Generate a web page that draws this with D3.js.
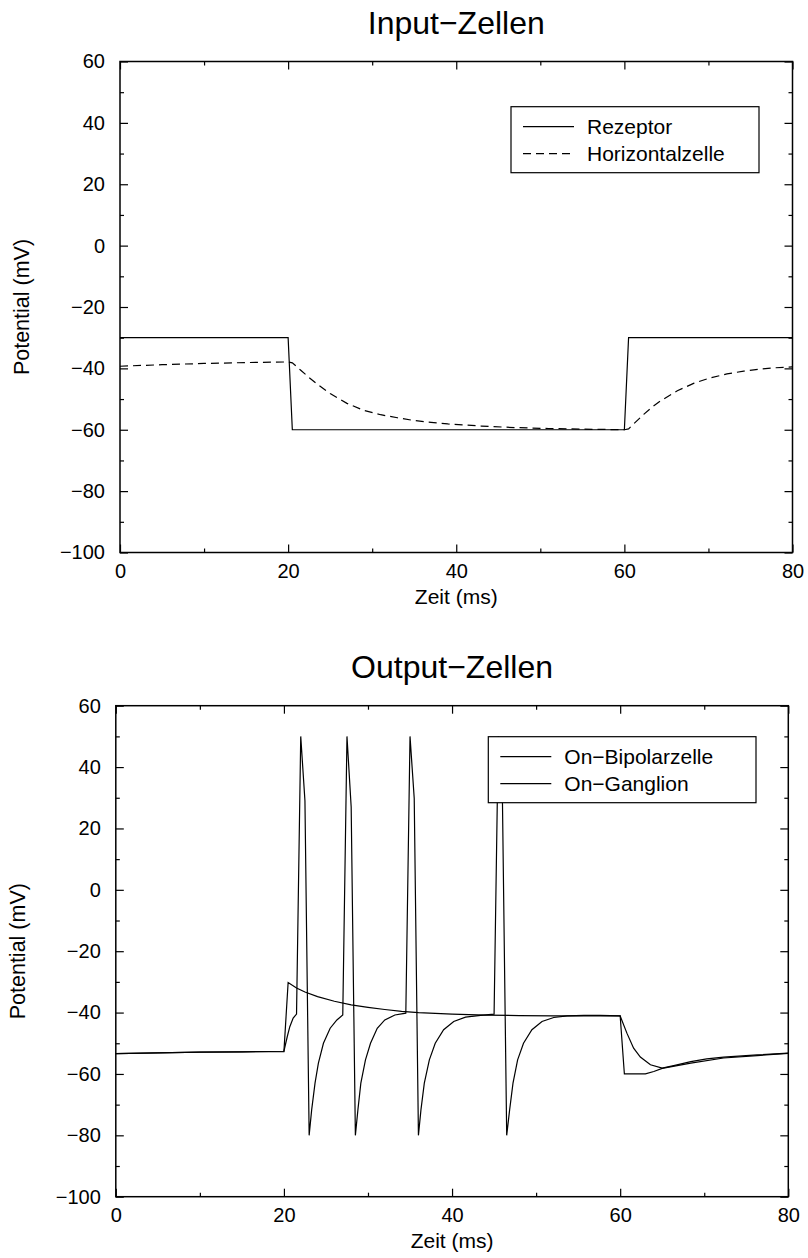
<!DOCTYPE html>
<html>
<head>
<meta charset="utf-8">
<script src="https://cdn.jsdelivr.net/npm/d3@7"></script>
<style>
  body { margin: 0; background: #fff; }
  text { font-family: "Liberation Sans", Arial, Helvetica, sans-serif; fill: #000; }
</style>
</head>
<body>
<svg id="chart" width="808" height="1258"></svg>
<script>
// ---- data ----
const xTicks = [0, 20, 40, 60, 80];
const yTicks = [-100, -80, -60, -40, -20, 0, 20, 40, 60];

// Input-Zellen
const receptorTime  = [0, 20, 20.5, 60, 60.5, 80];
const receptorValue = [-30, -30, -60, -60, -30, -30];

const horizTime  = [0, 5, 10, 15, 20, 20.5, 21.5, 22.5, 23.5, 25, 27, 29, 31, 33, 35, 37, 39, 43, 47, 51, 55, 60,
                    60.5, 61.1, 62.3, 63.3, 64.3, 66.3, 68.3, 70.2, 72.2, 74.2, 76.2, 78, 80];
const horizValue = [-39.3, -38.8, -38.4, -38.1, -37.9, -38.2, -40.6, -43.0, -45.2, -48.2, -51.4, -53.7, -55.1, -56.1, -57.0, -57.6, -58.1, -58.8, -59.3, -59.6, -59.8, -60,
                    -59.7, -58.1, -55.0, -52.6, -50.6, -47.3, -44.8, -43.1, -41.8, -40.9, -40.2, -39.8, -39.5];

// Output-Zellen
const bipolarTime  = [0, 5, 10, 15, 20, 20.5, 21.5, 22.5, 24, 26, 28, 30, 32, 34, 36, 40, 44, 48, 52, 60,
                      60.8, 61.6, 62.4, 63.6, 65, 66.5, 68.4, 70.3, 72.3, 76.3, 80];
const bipolarValue = [-53.4, -53.1, -52.9, -52.8, -52.7, -30.2, -32.0, -33.3, -34.8, -36.3, -37.5, -38.3, -39.0, -39.6, -40.0, -40.5, -40.8, -41.0, -41.1, -41.1,
                      -46.7, -51.6, -54.5, -57.0, -58.1, -57.2, -56.0, -55.1, -54.5, -53.8, -53.2];

const ganglionTime  = [0, 5, 10, 15, 20, 20.4, 20.7, 21.1, 21.5,
                       22, 22.5, 23, 23.3, 23.7, 24.1, 24.7, 25.5, 26.3, 27,
                       27.5, 28, 28.5, 28.8, 29.15, 29.7, 30.3, 31.1, 32, 33.2, 34.5,
                       35, 35.5, 36, 36.3, 36.7, 37.3, 38, 39, 40.2, 41.6, 43.4, 45,
                       45.5, 46, 46.5, 46.85, 47.25, 47.8, 48.5, 49.5, 50.7, 52.1, 53.7, 55.7, 57.6, 60,
                       60.5, 63, 64, 65, 68.4, 72.3, 76.3, 80];
const ganglionValue = [-53.4, -53.1, -52.9, -52.8, -52.6, -47.8, -44.6, -41.8, -40.5,
                       50, 29, -80, -71.7, -63.0, -56.5, -50.0, -45.1, -42.4, -40.8,
                       50, 27, -80, -71.7, -63.0, -55.4, -50.0, -45.1, -42.4, -40.8, -40.2,
                       50, 29.8, -80, -71.7, -63.0, -55.4, -50.0, -45.6, -42.9, -41.5, -40.9, -40.5,
                       50, 28, -80, -71.7, -63.0, -55.4, -50.0, -45.6, -42.9, -41.6, -41.1, -40.9, -40.9, -41.1,
                       -60, -60, -59.2, -58.2, -56.5, -54.8, -54.0, -53.3];

// ---- layout ----
const panels = [
  {
    title: "Input\u2212Zellen",
    left: 120, right: 792.5, top: 61.5, bottom: 552.5,
    series: [
      { name: "Rezeptor", t: receptorTime, v: receptorValue },
      { name: "Horizontalzelle", t: horizTime, v: horizValue, dash: "8,5" }
    ],
    legend: { x: 511, y: 106.7, w: 248, h: 66 }
  },
  {
    title: "Output\u2212Zellen",
    left: 115.8, right: 788.3, top: 705.7, bottom: 1196.7,
    series: [
      { name: "On\u2212Bipolarzelle", t: bipolarTime, v: bipolarValue },
      { name: "On\u2212Ganglion", t: ganglionTime, v: ganglionValue }
    ],
    legend: { x: 488.3, y: 736.7, w: 267.7, h: 66 }
  }
];

const svg = d3.select("#chart");
const fontFamily = '"Liberation Sans", Arial, Helvetica, sans-serif';

function styleAxis(g) {
  g.attr("font-size", 20).attr("font-family", fontFamily);
  g.select(".domain").remove();
  g.selectAll(".tick line").attr("stroke", "#000").attr("stroke-width", 1.2);
}

panels.forEach(function (p) {
  const g = svg.append("g");
  const x = d3.scaleLinear().domain([0, 80]).range([p.left, p.right]);
  const y = d3.scaleLinear().domain([-100, 60]).range([p.bottom, p.top]);
  const xMinor = d3.range(0, 81, 10).filter(d => !xTicks.includes(d));
  const yMinor = d3.range(-100, 61, 10).filter(d => !yTicks.includes(d));

  // data lines
  const line = d3.line().x(d => x(d[0])).y(d => y(d[1]));
  p.series.forEach(function (s) {
    g.append("path")
      .datum(d3.zip(s.t, s.v))
      .attr("d", line)
      .attr("fill", "none")
      .attr("stroke", "#000")
      .attr("stroke-width", 1.2)
      .attr("stroke-dasharray", s.dash || null);
  });

  // axes: labelled bottom/left, mirrored ticks top/right, all pointing inward
  g.append("g").attr("transform", `translate(0,${p.bottom})`)
    .call(d3.axisBottom(x).tickValues(xTicks).tickSize(-8).tickPadding(11)).call(styleAxis);
  g.append("g").attr("transform", `translate(0,${p.bottom})`)
    .call(d3.axisBottom(x).tickValues(xMinor).tickSize(-4).tickFormat("")).call(styleAxis);
  g.append("g").attr("transform", `translate(0,${p.top})`)
    .call(d3.axisTop(x).tickValues(xTicks).tickSize(-8).tickFormat("")).call(styleAxis);
  g.append("g").attr("transform", `translate(0,${p.top})`)
    .call(d3.axisTop(x).tickValues(xMinor).tickSize(-4).tickFormat("")).call(styleAxis);

  g.append("g").attr("transform", `translate(${p.left},0)`)
    .call(d3.axisLeft(y).tickValues(yTicks).tickSize(-8).tickPadding(15)).call(styleAxis);
  g.append("g").attr("transform", `translate(${p.left},0)`)
    .call(d3.axisLeft(y).tickValues(yMinor).tickSize(-4).tickFormat("")).call(styleAxis);
  g.append("g").attr("transform", `translate(${p.right},0)`)
    .call(d3.axisRight(y).tickValues(yTicks).tickSize(-8).tickFormat("")).call(styleAxis);
  g.append("g").attr("transform", `translate(${p.right},0)`)
    .call(d3.axisRight(y).tickValues(yMinor).tickSize(-4).tickFormat("")).call(styleAxis);

  // frame
  g.append("rect")
    .attr("x", p.left).attr("y", p.top)
    .attr("width", p.right - p.left).attr("height", p.bottom - p.top)
    .attr("fill", "none").attr("stroke", "#000").attr("stroke-width", 1.5);

  // title + axis labels
  g.append("text")
    .attr("x", (p.left + p.right) / 2).attr("y", p.top - 27.5)
    .attr("text-anchor", "middle").attr("font-size", 32)
    .text(p.title);
  g.append("text")
    .attr("x", (p.left + p.right) / 2).attr("y", p.bottom + 51)
    .attr("text-anchor", "middle").attr("font-size", 21)
    .text("Zeit (ms)");
  g.append("text")
    .attr("transform", `translate(${p.left - 91},${(p.top + p.bottom) / 2}) rotate(-90)`)
    .attr("text-anchor", "middle").attr("font-size", 21.5)
    .text("Potential (mV)");

  // legend
  const lg = g.append("g").attr("transform", `translate(${p.legend.x},${p.legend.y})`);
  lg.append("rect")
    .attr("width", p.legend.w).attr("height", p.legend.h)
    .attr("fill", "#fff").attr("stroke", "#000").attr("stroke-width", 1.2);
  p.series.forEach(function (s, i) {
    const cy = 20 + i * 27;
    lg.append("line")
      .attr("x1", 12).attr("x2", 63).attr("y1", cy).attr("y2", cy)
      .attr("stroke", "#000").attr("stroke-width", 1.2)
      .attr("stroke-dasharray", s.dash || null);
    lg.append("text")
      .attr("x", 76).attr("y", cy).attr("dy", "0.35em")
      .attr("font-size", 21)
      .text(s.name);
  });
});
</script>
</body>
</html>
